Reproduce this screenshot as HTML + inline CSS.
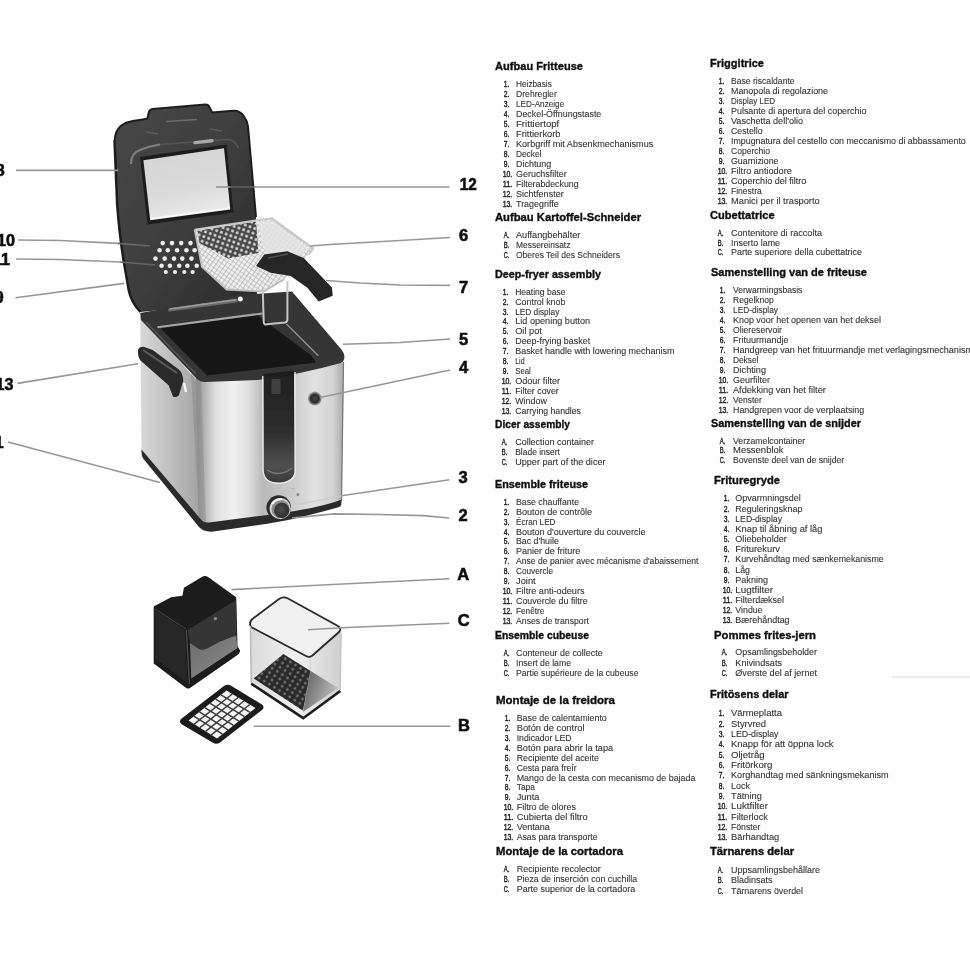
<!DOCTYPE html>
<html><head><meta charset="utf-8"><title>Fryer parts</title>
<style>
html,body{margin:0;padding:0;background:#fff;}
body{width:970px;height:970px;overflow:hidden;position:relative;font-family:"Liberation Sans",sans-serif;}
svg{position:absolute;left:0;top:0;}
.h{font-family:"Liberation Sans",sans-serif;font-weight:bold;font-size:11.5px;fill:#0c0c0c;stroke:#0c0c0c;stroke-width:0.35px;}
.i{font-family:"Liberation Sans",sans-serif;font-size:8.8px;fill:#333;stroke:#333;stroke-width:0.1px;}
.n{font-family:"Liberation Sans",sans-serif;font-size:8.8px;fill:#1e1e1e;stroke:#1e1e1e;stroke-width:0.4px;}
.lb{font-family:"Liberation Sans",sans-serif;font-weight:bold;font-size:16.5px;fill:#111;stroke:#111;stroke-width:0.6px;}
</style></head><body>

<svg width="970" height="970" viewBox="0 0 970 970">
<defs>
  <filter id="db" x="-5%" y="-5%" width="110%" height="110%"><feGaussianBlur stdDeviation="0.7"/></filter>
  <filter id="lbf" x="-20%" y="-20%" width="140%" height="140%"><feGaussianBlur stdDeviation="0.4"/></filter>
  <linearGradient id="gFront" x1="0" y1="0" x2="1" y2="0">
    <stop offset="0" stop-color="#8d8d8d"/>
    <stop offset="0.06" stop-color="#b5b5b5"/>
    <stop offset="0.14" stop-color="#e2e2e2"/>
    <stop offset="0.26" stop-color="#f1f1f1"/>
    <stop offset="0.36" stop-color="#dedede"/>
    <stop offset="0.45" stop-color="#b9b9b9"/>
    <stop offset="0.66" stop-color="#cdcdcd"/>
    <stop offset="0.8" stop-color="#e2e2e2"/>
    <stop offset="0.93" stop-color="#d2d2d2"/>
    <stop offset="1" stop-color="#a9a9a9"/>
  </linearGradient>
  <linearGradient id="gSide" x1="0" y1="0" x2="1" y2="0">
    <stop offset="0" stop-color="#d8d8d8"/>
    <stop offset="0.4" stop-color="#c4c4c4"/>
    <stop offset="1" stop-color="#a0a0a0"/>
  </linearGradient>
  <linearGradient id="gWin" x1="0" y1="0" x2="0.3" y2="1">
    <stop offset="0" stop-color="#d2d4d2"/>
    <stop offset="0.7" stop-color="#dbdcdb"/>
    <stop offset="1" stop-color="#e9e9e9"/>
  </linearGradient>
  <linearGradient id="gLid" x1="0" y1="0" x2="1" y2="1">
    <stop offset="0" stop-color="#474747"/>
    <stop offset="0.5" stop-color="#3e3e3e"/>
    <stop offset="1" stop-color="#2a2a2a"/>
  </linearGradient>
  <linearGradient id="gSlot" x1="0" y1="0" x2="0" y2="1">
    <stop offset="0" stop-color="#1e1e1e"/>
    <stop offset="0.55" stop-color="#2e2e2e"/>
    <stop offset="0.85" stop-color="#505050"/>
    <stop offset="1" stop-color="#3a3a3a"/>
  </linearGradient>
  <radialGradient id="gKnob" cx="0.5" cy="0.5" r="0.5">
    <stop offset="0" stop-color="#4d4d4d"/>
    <stop offset="0.55" stop-color="#2c2c2c"/>
    <stop offset="0.64" stop-color="#b9b9b9"/>
    <stop offset="0.8" stop-color="#7d7d7d"/>
    <stop offset="0.92" stop-color="#9a9a9a"/>
    <stop offset="1" stop-color="#4a4a4a"/>
  </radialGradient>
  <radialGradient id="gKnobFace" cx="0.45" cy="0.45" r="0.6"><stop offset="0" stop-color="#4e4e4e"/><stop offset="1" stop-color="#2a2a2a"/></radialGradient>
  <radialGradient id="gBtn" cx="0.5" cy="0.5" r="0.5">
    <stop offset="0" stop-color="#4a4a4a"/>
    <stop offset="0.6" stop-color="#2a2a2a"/>
    <stop offset="0.8" stop-color="#777"/>
    <stop offset="1" stop-color="#aaa"/>
  </radialGradient>
  <pattern id="mesh" width="5" height="5" patternUnits="userSpaceOnUse" patternTransform="rotate(20)">
    <rect width="5" height="5" fill="#4a4a4a"/>
    <circle cx="2.5" cy="2.5" r="1.5" fill="#d9d9d9"/>
  </pattern>
  <pattern id="mesh2" width="4" height="4" patternUnits="userSpaceOnUse" patternTransform="rotate(35)">
    <rect width="4" height="4" fill="#efefef"/>
    <path d="M0 0H4M0 0V4" stroke="#a9a9a9" stroke-width="1.2"/>
  </pattern>
  <pattern id="dots" width="6" height="5" patternUnits="userSpaceOnUse" patternTransform="rotate(32)">
    <rect width="6" height="5" fill="#2c2c2c"/>
    <circle cx="3" cy="2.5" r="1.3" fill="#7a7a7a"/>
  </pattern>
  <linearGradient id="gBoxFront" x1="0" y1="0" x2="1" y2="1">
    <stop offset="0" stop-color="#6a6a6a"/>
    <stop offset="1" stop-color="#8d8d8d"/>
  </linearGradient>
  <linearGradient id="gClear" x1="0" y1="0" x2="1" y2="0">
    <stop offset="0" stop-color="#dadada"/>
    <stop offset="0.5" stop-color="#f0f0f0"/>
    <stop offset="1" stop-color="#cfcfcf"/>
  </linearGradient>
  <linearGradient id="gClearFloor" x1="0" y1="0" x2="1" y2="0.4">
    <stop offset="0" stop-color="#5a5a5a"/>
    <stop offset="1" stop-color="#bdbdbd"/>
  </linearGradient>
</defs>

<path d="M892 677 H970" stroke="#ededed" stroke-width="2" fill="none"/>
<!-- ===== fryer ===== -->
<g filter="url(#db)">
  <!-- left side face -->
  <path d="M140.3 316 L141.5 451 L202.5 523 L197 381 Z" fill="url(#gSide)"/>
  <!-- front face -->
  <path d="M196 377 Q200 381.5 205 381.3 L258 379 Q300 374 343.8 362 L341.8 501 Q335 503.5 320 507 Q300 512 255 517.5 L209 524 Q199 520 198.5 510 Z" fill="url(#gFront)"/>
  <!-- corner shade -->
  <path d="M191 372 L201 381 L206 527 L199 520 Z" fill="#8a8a8a" opacity="0.5"/>
  <!-- base stripe -->
  <path d="M141.5 449.5 L201 519.5 Q204 523 209 522.5 L255 516.5 Q300 511 320 506 Q335 502.5 341.6 499.6 L341.3 504.5 Q341 506.8 338.5 507.3 Q320 512.5 299.5 517.5 Q280 522 255 525.5 L213.5 531.5 Q204 532.5 199 527 L143.5 459 Q141.5 456 141.5 452 Z" fill="#2b2b2b"/>
  <!-- body right thin dark edge -->
  <path d="M343.5 362 L341.5 500" stroke="#777" stroke-width="1.2" fill="none"/>

  <!-- LID -->
  <path d="M114.9 140 Q115 131 121 125.7 Q126 122 131.5 121.3 L147.3 118.7 L149 111.6 Q149.8 109.3 152.6 109 L205.2 104.6 Q208.5 104.5 209.5 107.3 L212.2 112.5 L233.2 110.8 Q240 110.5 243.7 116 Q247.5 121 248 126.5 L256 217 L257 300 L140.5 312 Q131 302 128.5 290 L124 264 Q119.5 238 117 205 L114.2 140 Z" fill="url(#gLid)"/>
  <!-- lid edge darker -->
  <path d="M114.9 140 Q115 131 121 125.7 Q126 122 131.5 121.3 L147.3 118.7 L149 111.6 Q149.8 109.3 152.6 109 L205.2 104.6 Q208.5 104.5 209.5 107.3 L212.2 112.5 L233.2 110.8 Q240 110.5 243.7 116 Q247.5 121 248 126.5 L256 217" fill="none" stroke="#1f1f1f" stroke-width="2"/>
  <path d="M114.5 140 L117.2 205 Q119.7 238 124.2 264 L128.7 290 Q131 302 140.5 312" fill="none" stroke="#1c1c1c" stroke-width="2.5"/>
  <!-- lid highlights -->
  <path d="M166 121.5 L197 119.5" stroke="#6a6a6a" stroke-width="1.6" fill="none"/>
  <path d="M146 132 L158 134" stroke="#5a5a5a" stroke-width="1.4" fill="none"/>
  <path d="M210 129 L222 131" stroke="#5a5a5a" stroke-width="1.4" fill="none"/>
  <path d="M131 164 Q131 153 140 150 Q150 146 160 144.5" stroke="#808080" stroke-width="2.2" fill="none"/>
  <path d="M160 144.5 L226 139.5 Q236 139.5 238 148" stroke="#555" stroke-width="1.6" fill="none"/>
  <path d="M195 142.6 L212 140.8" stroke="#a8a8a8" stroke-width="3.4" stroke-linecap="round" fill="none"/>
  <!-- window frame & glass -->
  <path d="M140 157 L226.5 144.5 L233.5 212.5 L147.5 224.5 Z" fill="#1d1d1d"/>
  <path d="M143.4 160.2 L224 148.2 L230.3 209.4 L150.2 220.2 Z" fill="url(#gWin)"/>
  <path d="M150.6 218.6 L230 208" stroke="#fafafa" stroke-width="1.6" fill="none"/>
  <!-- filter holes -->
  <g fill="#ececec">
    <circle cx="162.7" cy="243.1" r="2.3"/><circle cx="172.0" cy="243.1" r="2.3"/><circle cx="181.2" cy="243.1" r="2.3"/><circle cx="190.5" cy="243.1" r="2.3"/>
    <circle cx="159.6" cy="250.3" r="2.3"/><circle cx="167.8" cy="250.3" r="2.3"/><circle cx="177.1" cy="250.3" r="2.3"/><circle cx="186.4" cy="250.3" r="2.3"/><circle cx="194.6" cy="250.3" r="2.3"/>
    <circle cx="155.5" cy="258.6" r="2.3"/><circle cx="164.7" cy="258.6" r="2.3"/><circle cx="174.0" cy="258.6" r="2.3"/><circle cx="182.3" cy="258.6" r="2.3"/><circle cx="191.5" cy="258.6" r="2.3"/>
    <circle cx="161.6" cy="265.8" r="2.3"/><circle cx="169.9" cy="265.8" r="2.3"/><circle cx="179.2" cy="265.8" r="2.3"/><circle cx="187.4" cy="265.8" r="2.3"/><circle cx="196.7" cy="265.8" r="2.3"/>
    <circle cx="165.8" cy="272.0" r="2.1"/><circle cx="175.0" cy="272.0" r="2.1"/><circle cx="184.3" cy="272.0" r="2.1"/><circle cx="192.6" cy="272.0" r="2.1"/>
  </g>

  <!-- RIM of body -->
  <path d="M140.2 313 L240 295 L292 291.5 L341 349 Q345 354 344.3 358 Q343.5 362.3 340 363.3 Q300 374.5 258 380 L205 382 Q200 382 197 379 L141 320 Z" fill="#343434"/>
  <!-- pot interior -->
  <path d="M160.6 328.6 L257 315 L311.4 355.8 L316 362.5 L207.1 375.5 Z" fill="#171717"/>
  <!-- pot edge highlights -->
  <path d="M157.4 327.2 L262.6 313.4" stroke="#a5a5a5" stroke-width="2" fill="none"/>
  <path d="M286.5 324 L318.3 355.8" stroke="#8a8a8a" stroke-width="1.6" fill="none"/>
  <path d="M169.8 309.8 L236 300.6" stroke="#6a6a6a" stroke-width="3.6" stroke-linecap="round" fill="none"/>
  <path d="M170 309 L236 299.8" stroke="#9c9c9c" stroke-width="1.6" fill="none"/>
  <circle cx="240.3" cy="298.9" r="2.5" fill="#f4f4f4"/>
  <path d="M146 322 L196 374" stroke="#555" stroke-width="1.4" fill="none"/>

  <!-- left handle -->
  <path d="M138 350 Q139 346.5 143.6 346.7 L152.7 350 L178.8 369.4 Q183 373 183.3 380.7 L178.8 395.5 Q176 398 173 396.6 L168.6 385.3 L159.5 377.3 L140.2 360.3 Q137.5 356 138 350 Z" fill="#2a2a2a"/>
  <path d="M143 350 L177 373" stroke="#5c5c5c" stroke-width="2" fill="none"/>
  <path d="M184 383 L186 392" stroke="#f4f4f4" stroke-width="2.4" fill="none"/>

  <!-- window slot -->
  <path d="M263.5 374 L294 370.5 L294.6 470 Q294.6 481 280 482.5 Q264 483 263.6 470 Z" fill="url(#gSlot)"/>
  <path d="M262.8 376 L263 470 Q263.5 484 280 483.3 Q295.5 482 295.3 470 L295 372" fill="none" stroke="#e8e8e8" stroke-width="1.3"/>
  <rect x="271.5" y="379" width="9" height="15" fill="#3f3f3f"/>
  <path d="M267 470 Q279 478 292 468" stroke="#777" stroke-width="1.5" fill="none"/>

  <!-- button 4 -->
  <circle cx="314.8" cy="398.6" r="7" fill="url(#gBtn)"/>
  <!-- knob 2 -->
  <circle cx="278.7" cy="507.6" r="12.3" fill="#2a2a2a"/>
  <circle cx="280.2" cy="508.6" r="10.6" fill="#d9d9d9"/>
  <circle cx="280.6" cy="509" r="9.2" fill="#8a8a8a"/>
  <path d="M272.5 504 Q275 499.5 282 499" stroke="#f6f6f6" stroke-width="2" fill="none"/>
  <circle cx="281.7" cy="510.4" r="7.6" fill="url(#gKnobFace)"/>
  <!-- LED bits -->
  <rect x="296.7" y="493.4" width="2.4" height="2.4" fill="#7c7c7c"/>
  <path d="M290.6 488.6 H294.4" stroke="#b4b4b4" stroke-width="1" fill="none"/>

  <!-- BASKET -->
  <path d="M194.6 229.7 L255.5 220.5 L272 218.4 L313.2 248.3 L309 254.5 L284.3 279.2 L263.7 291.6 L226.6 289.5 L201.9 266.9 Z" fill="url(#mesh2)"/>
  <path d="M197.5 230.8 L256 221.5 L258.5 253 L228 258.5 L199.5 243 Z" fill="url(#mesh)"/>
  <path d="M258 222 L272 220 L309 249 L290 262 L266 257 Z" fill="#e3e3e3" opacity="0.85"/>
  <path d="M194.6 229.7 L255.5 220.5 L272 218.4 L313.2 248.3 L309 254.5" fill="none" stroke="#c9c9c9" stroke-width="2"/>
  <path d="M194.6 229.7 L201.9 266.9 L226.6 289.5 L263.7 291.6 L284.3 279.2" fill="none" stroke="#bdbdbd" stroke-width="1.8"/>
  <!-- wire hook -->
  <path d="M262.7 287.5 L263.7 322 Q264 325 267 324.3 L285 322.5 Q287.6 322 287.4 319 L287.4 281.3" fill="none" stroke="#c6c6c6" stroke-width="2"/>
  <!-- basket handle -->
  <path d="M256 266 L264.2 254.6 L287.3 251.3 L303.8 257.9 L331.9 287.6 L332.7 295.8 L318.7 301.6 L307.1 287.6 L290.6 276 L270.8 272.7 Z" fill="#262626"/>
  <path d="M268 258 L288 254" stroke="#4d4d4d" stroke-width="1.5" fill="none"/>

  <!-- ===== accessories ===== -->
  <!-- black container A -->
  <path d="M153.7 606.6 L171.1 597.2 L182.5 595.8 L183.9 587.8 L202.7 576.4 Q205.5 575.5 208 577 L236.2 597.2 L237.5 646 L240.2 650.8 L238.9 654 L190 688 Q187.9 689.4 185.5 687.5 L153.7 663.5 Z" fill="#1a1a1a"/>
  <!-- left face -->
  <path d="M155.5 611 L185.2 630 L187.5 683 L155.5 659 Z" fill="#272727"/>
  <!-- right face upper -->
  <path d="M187.5 630 L236 600 L236.8 636 L220.1 641.4 L208 648.1 Q202 651 198.6 648.8 L189.9 642 Z" fill="#343434"/>
  <!-- right face lower grey -->
  <path d="M189.9 642.8 L198.6 648.8 Q202 651 208 648.1 L220.1 641.4 L236.2 635.4 L237.5 648.1 L191.3 678.5 Z" fill="url(#gBoxFront)"/>
  <path d="M186.3 630 L189.5 684" stroke="#4a4a4a" stroke-width="1.3" fill="none"/>
  <path d="M155 609 L186 629" stroke="#3d3d3d" stroke-width="1.2" fill="none"/>
  <circle cx="215.4" cy="618.6" r="1.7" fill="#8d8d8d"/>
  <!-- clear container C -->
  <path d="M250 624 Q250 620.5 253 618.5 L279 599 Q283.4 596 288 598.5 L338 626 Q342 628.5 341.5 633 L340.3 691 L303.2 718.2 L251.2 683.6 Z" fill="url(#gClear)"/>
  <path d="M253.7 678.6 L283.4 654 L310.6 671 L303 710.8 Z" fill="url(#dots)"/>
  <path d="M310.6 671 L338 688 L303 712 Z" fill="url(#gClearFloor)"/>
  <path d="M251.2 683.6 L303.2 718.2 L340.3 691" fill="none" stroke="#1d1d1d" stroke-width="2.6"/>
  <path d="M250 624 Q250 620.5 253 618.5 L279 599 Q283.4 596 288 598.5 L338 626 Q342 628.5 339 632 L313 655 Q310 658 306 656 L252 627.5 Q250 626 250 624 Z" fill="#f1f1f1" stroke="#2a2a2a" stroke-width="1.8"/>
  <path d="M250.5 626 L251.2 683" stroke="#bdbdbd" stroke-width="1.6" fill="none"/>
  <path d="M341 633 L340.3 690" stroke="#c6c6c6" stroke-width="1.4" fill="none"/>
  <path d="M310 658 L310.6 671" stroke="#d5d5d5" stroke-width="1.2" fill="none"/>
  <!-- blade grid B -->
  <path d="M181 719 L224 686 Q227.7 683.5 231.5 686 L262 704.5 Q265 707 262 710 L220 742.5 Q216.6 745 212.5 742.5 L182 724.5 Q178.5 722 181 719 Z" fill="#1b1b1b"/>
  <path d="M188.5 720.5 L226.5 690.5 L255.5 708.0 L217.0 738.5 Z" fill="#f4f4f4"/>
  <g stroke="#3c3c3c" stroke-width="1.5" fill="none">
    <path d="M193.9 716.2 L222.5 734.1"/>
    <path d="M199.4 711.9 L228.0 729.8"/>
    <path d="M204.8 707.6 L233.5 725.4"/>
    <path d="M210.2 703.4 L239.0 721.1"/>
    <path d="M215.6 699.1 L244.5 716.7"/>
    <path d="M221.1 694.8 L250.0 712.4"/>
    <path d="M194.2 724.1 L232.3 694.0"/>
    <path d="M199.9 727.7 L238.1 697.5"/>
    <path d="M205.6 731.3 L243.9 701.0"/>
    <path d="M211.3 734.9 L249.7 704.5"/>
  </g>

</g>
<!-- ===== leader lines ===== -->
<g fill="none" stroke="#979797" stroke-width="1.6" filter="url(#lbf)">
  <path d="M16 170.4H118"/>
  <path d="M18 240 L60 240.5 L118 243.4"/><path d="M118 243.4 L150 246" stroke="#666"/>
  <path d="M16 259 L60 259.5 L120 262"/><path d="M120 262 L155 265" stroke="#666"/>
  <path d="M15.5 297.8 L124 283.4"/>
  <path d="M17.5 383.4 L138 363.8"/>
  <path d="M8 442 L160 482.5"/>
  <path d="M216 187 H230.5"/><path d="M230.5 187 H254.5" stroke="#5e5e5e"/><path d="M254.5 187 H449.5"/>
  <path d="M310 246 L330 244.5 L400 240.5 L450 237.5"/>
  <path d="M326 280.5 L360 283 L400 285 L450 285.4"/>
  <path d="M343 344.3 L400 342.5 L450 339"/>
  <path d="M320 397.5 L450 370"/>
  <path d="M300 504 L341.6 495.8" stroke="#c9c9c9" stroke-width="1.2"/><path d="M341.6 495.8 L449.3 479.7"/>
  <path d="M292 518 L334 513.9 L380 514.5 L423 515.6 L449.3 518"/>
  <path d="M231.4 589.6 L449.3 578.7"/>
  <path d="M308 629.7 L341.6 627.7 L449.3 623.3"/>
  <path d="M253.7 726.2 H450.5"/>
</g>

<!-- ===== callout labels ===== -->
<g class="lb" filter="url(#lbf)">
  <text x="-4.5" y="176.3">8</text>
  <text x="-3" y="246.3" textLength="18" lengthAdjust="spacingAndGlyphs">10</text>
  <text x="-7" y="264.5" textLength="17" lengthAdjust="spacingAndGlyphs">11</text>
  <text x="-5.5" y="302.5">9</text>
  <text x="-4.5" y="390.3" textLength="18" lengthAdjust="spacingAndGlyphs">13</text>
  <text x="-5.5" y="448">1</text>
  <text x="459.8" y="190.3" textLength="17" lengthAdjust="spacingAndGlyphs">12</text>
  <text x="459" y="241">6</text>
  <text x="459" y="292.6">7</text>
  <text x="459" y="345.3">5</text>
  <text x="459" y="372.5">4</text>
  <text x="458.6" y="483.2">3</text>
  <text x="458.6" y="521">2</text>
  <text x="457.2" y="580.4">A</text>
  <text x="457.8" y="626">C</text>
  <text x="458" y="730.8">B</text>
</g>

</svg>

<svg width="970" height="970" viewBox="0 0 970 970">
<defs><filter id="tb" x="-5%" y="-5%" width="110%" height="110%"><feGaussianBlur stdDeviation="0.5"/></filter></defs>
<g filter="url(#tb)">
<text class="h" x="495" y="69.9" textLength="88.0" lengthAdjust="spacingAndGlyphs">Aufbau Fritteuse</text>
<text class="n" x="503.8" y="86.7" textLength="5.6" lengthAdjust="spacingAndGlyphs">1.</text>
<text class="i" x="516.0" y="86.7" textLength="35.8" lengthAdjust="spacingAndGlyphs">Heizbasis</text>
<text class="n" x="503.8" y="96.7" textLength="5.6" lengthAdjust="spacingAndGlyphs">2.</text>
<text class="i" x="516.0" y="96.7" textLength="40.8" lengthAdjust="spacingAndGlyphs">Drehregler</text>
<text class="n" x="503.8" y="106.7" textLength="5.6" lengthAdjust="spacingAndGlyphs">3.</text>
<text class="i" x="516.0" y="106.7" textLength="48.2" lengthAdjust="spacingAndGlyphs">LED-Anzeige</text>
<text class="n" x="503.8" y="116.7" textLength="5.6" lengthAdjust="spacingAndGlyphs">4.</text>
<text class="i" x="516.0" y="116.7" textLength="85.3" lengthAdjust="spacingAndGlyphs">Deckel-Öffnungstaste</text>
<text class="n" x="503.8" y="126.7" textLength="5.6" lengthAdjust="spacingAndGlyphs">5.</text>
<text class="i" x="516.0" y="126.7" textLength="43.3" lengthAdjust="spacingAndGlyphs">Frittiertopf</text>
<text class="n" x="503.8" y="136.7" textLength="5.6" lengthAdjust="spacingAndGlyphs">6.</text>
<text class="i" x="516.0" y="136.7" textLength="44.5" lengthAdjust="spacingAndGlyphs">Frittierkorb</text>
<text class="n" x="503.8" y="146.8" textLength="5.6" lengthAdjust="spacingAndGlyphs">7.</text>
<text class="i" x="516.0" y="146.8" textLength="137.3" lengthAdjust="spacingAndGlyphs">Korbgriff mit Absenkmechanismus</text>
<text class="n" x="503.8" y="156.8" textLength="5.6" lengthAdjust="spacingAndGlyphs">8.</text>
<text class="i" x="516.0" y="156.8" textLength="25.4" lengthAdjust="spacingAndGlyphs">Deckel</text>
<text class="n" x="503.8" y="166.8" textLength="5.6" lengthAdjust="spacingAndGlyphs">9.</text>
<text class="i" x="516.0" y="166.8" textLength="35.3" lengthAdjust="spacingAndGlyphs">Dichtung</text>
<text class="n" x="502.7" y="176.8" textLength="9.6" lengthAdjust="spacingAndGlyphs">10.</text>
<text class="i" x="516.0" y="176.8" textLength="50.7" lengthAdjust="spacingAndGlyphs">Geruchsfilter</text>
<text class="n" x="502.7" y="186.8" textLength="9.6" lengthAdjust="spacingAndGlyphs">11.</text>
<text class="i" x="516.0" y="186.8" textLength="62.6" lengthAdjust="spacingAndGlyphs">Filterabdeckung</text>
<text class="n" x="502.7" y="196.8" textLength="9.6" lengthAdjust="spacingAndGlyphs">12.</text>
<text class="i" x="516.0" y="196.8" textLength="47.7" lengthAdjust="spacingAndGlyphs">Sichtfenster</text>
<text class="n" x="502.7" y="206.8" textLength="9.6" lengthAdjust="spacingAndGlyphs">13.</text>
<text class="i" x="516.0" y="206.8" textLength="42.8" lengthAdjust="spacingAndGlyphs">Tragegriffe</text>
<text class="h" x="495" y="220.9" textLength="146.0" lengthAdjust="spacingAndGlyphs">Aufbau Kartoffel-Schneider</text>
<text class="n" x="503.8" y="237.7" textLength="5.6" lengthAdjust="spacingAndGlyphs">A.</text>
<text class="i" x="516.0" y="237.7" textLength="64.3" lengthAdjust="spacingAndGlyphs">Auffangbehälter</text>
<text class="n" x="503.8" y="247.9" textLength="5.6" lengthAdjust="spacingAndGlyphs">B.</text>
<text class="i" x="516.0" y="247.9" textLength="54.4" lengthAdjust="spacingAndGlyphs">Messereinsatz</text>
<text class="n" x="503.8" y="258.0" textLength="5.6" lengthAdjust="spacingAndGlyphs">C.</text>
<text class="i" x="516.0" y="258.0" textLength="103.9" lengthAdjust="spacingAndGlyphs">Oberes Teil des Schneiders</text>
<text class="h" x="495" y="277.5" textLength="106.0" lengthAdjust="spacingAndGlyphs">Deep-fryer assembly</text>
<text class="n" x="502.8" y="294.7" textLength="5.6" lengthAdjust="spacingAndGlyphs">1.</text>
<text class="i" x="515.2" y="294.7" textLength="50.2" lengthAdjust="spacingAndGlyphs">Heating base</text>
<text class="n" x="502.8" y="304.6" textLength="5.6" lengthAdjust="spacingAndGlyphs">2.</text>
<text class="i" x="515.2" y="304.6" textLength="50.2" lengthAdjust="spacingAndGlyphs">Control knob</text>
<text class="n" x="502.8" y="314.5" textLength="5.6" lengthAdjust="spacingAndGlyphs">3.</text>
<text class="i" x="515.2" y="314.5" textLength="44.1" lengthAdjust="spacingAndGlyphs">LED display</text>
<text class="n" x="502.8" y="324.4" textLength="5.6" lengthAdjust="spacingAndGlyphs">4.</text>
<text class="i" x="515.2" y="324.4" textLength="75.0" lengthAdjust="spacingAndGlyphs">Lid opening button</text>
<text class="n" x="502.8" y="334.3" textLength="5.6" lengthAdjust="spacingAndGlyphs">5.</text>
<text class="i" x="515.2" y="334.3" textLength="26.7" lengthAdjust="spacingAndGlyphs">Oil pot</text>
<text class="n" x="502.8" y="344.2" textLength="5.6" lengthAdjust="spacingAndGlyphs">6.</text>
<text class="i" x="515.2" y="344.2" textLength="75.0" lengthAdjust="spacingAndGlyphs">Deep-frying basket</text>
<text class="n" x="502.8" y="354.1" textLength="5.6" lengthAdjust="spacingAndGlyphs">7.</text>
<text class="i" x="515.2" y="354.1" textLength="159.2" lengthAdjust="spacingAndGlyphs">Basket handle with lowering mechanism</text>
<text class="n" x="502.8" y="364.0" textLength="5.6" lengthAdjust="spacingAndGlyphs">8.</text>
<text class="i" x="515.2" y="364.0" textLength="9.4" lengthAdjust="spacingAndGlyphs">Lid</text>
<text class="n" x="502.8" y="373.9" textLength="5.6" lengthAdjust="spacingAndGlyphs">9.</text>
<text class="i" x="515.2" y="373.9" textLength="15.6" lengthAdjust="spacingAndGlyphs">Seal</text>
<text class="n" x="501.7" y="383.8" textLength="9.6" lengthAdjust="spacingAndGlyphs">10.</text>
<text class="i" x="515.2" y="383.8" textLength="44.8" lengthAdjust="spacingAndGlyphs">Odour filter</text>
<text class="n" x="501.7" y="393.7" textLength="9.6" lengthAdjust="spacingAndGlyphs">11.</text>
<text class="i" x="515.2" y="393.7" textLength="43.6" lengthAdjust="spacingAndGlyphs">Filter cover</text>
<text class="n" x="501.7" y="403.6" textLength="9.6" lengthAdjust="spacingAndGlyphs">12.</text>
<text class="i" x="515.2" y="403.6" textLength="31.7" lengthAdjust="spacingAndGlyphs">Window</text>
<text class="n" x="501.7" y="413.5" textLength="9.6" lengthAdjust="spacingAndGlyphs">13.</text>
<text class="i" x="515.2" y="413.5" textLength="65.8" lengthAdjust="spacingAndGlyphs">Carrying handles</text>
<text class="h" x="495" y="427.9" textLength="75.0" lengthAdjust="spacingAndGlyphs">Dicer assembly</text>
<text class="n" x="501.8" y="445.3" textLength="5.6" lengthAdjust="spacingAndGlyphs">A.</text>
<text class="i" x="515.2" y="445.3" textLength="78.7" lengthAdjust="spacingAndGlyphs">Collection container</text>
<text class="n" x="501.8" y="455.3" textLength="5.6" lengthAdjust="spacingAndGlyphs">B.</text>
<text class="i" x="515.2" y="455.3" textLength="44.8" lengthAdjust="spacingAndGlyphs">Blade insert</text>
<text class="n" x="501.8" y="465.3" textLength="5.6" lengthAdjust="spacingAndGlyphs">C.</text>
<text class="i" x="515.2" y="465.3" textLength="90.3" lengthAdjust="spacingAndGlyphs">Upper part of the dicer</text>
<text class="h" x="495" y="488.3" textLength="93.0" lengthAdjust="spacingAndGlyphs">Ensemble friteuse</text>
<text class="n" x="503.8" y="504.7" textLength="5.6" lengthAdjust="spacingAndGlyphs">1.</text>
<text class="i" x="516.0" y="504.7" textLength="63.0" lengthAdjust="spacingAndGlyphs">Base chauffante</text>
<text class="n" x="503.8" y="514.6" textLength="5.6" lengthAdjust="spacingAndGlyphs">2.</text>
<text class="i" x="516.0" y="514.6" textLength="76.0" lengthAdjust="spacingAndGlyphs">Bouton de contrôle</text>
<text class="n" x="503.8" y="524.5" textLength="5.6" lengthAdjust="spacingAndGlyphs">3.</text>
<text class="i" x="516.0" y="524.5" textLength="39.5" lengthAdjust="spacingAndGlyphs">Écran LED</text>
<text class="n" x="503.8" y="534.5" textLength="5.6" lengthAdjust="spacingAndGlyphs">4.</text>
<text class="i" x="516.0" y="534.5" textLength="129.4" lengthAdjust="spacingAndGlyphs">Bouton d'ouverture du couvercle</text>
<text class="n" x="503.8" y="544.4" textLength="5.6" lengthAdjust="spacingAndGlyphs">5.</text>
<text class="i" x="516.0" y="544.4" textLength="42.8" lengthAdjust="spacingAndGlyphs">Bac d'huile</text>
<text class="n" x="503.8" y="554.3" textLength="5.6" lengthAdjust="spacingAndGlyphs">6.</text>
<text class="i" x="516.0" y="554.3" textLength="64.3" lengthAdjust="spacingAndGlyphs">Panier de friture</text>
<text class="n" x="503.8" y="564.2" textLength="5.6" lengthAdjust="spacingAndGlyphs">7.</text>
<text class="i" x="516.0" y="564.2" textLength="182.4" lengthAdjust="spacingAndGlyphs">Anse de panier avec mécanisme d'abaissement</text>
<text class="n" x="503.8" y="574.2" textLength="5.6" lengthAdjust="spacingAndGlyphs">8.</text>
<text class="i" x="516.0" y="574.2" textLength="37.0" lengthAdjust="spacingAndGlyphs">Couvercle</text>
<text class="n" x="503.8" y="584.1" textLength="5.6" lengthAdjust="spacingAndGlyphs">9.</text>
<text class="i" x="516.0" y="584.1" textLength="19.7" lengthAdjust="spacingAndGlyphs">Joint</text>
<text class="n" x="502.7" y="594.0" textLength="9.6" lengthAdjust="spacingAndGlyphs">10.</text>
<text class="i" x="516.0" y="594.0" textLength="68.5" lengthAdjust="spacingAndGlyphs">Filtre anti-odeurs</text>
<text class="n" x="502.7" y="603.9" textLength="9.6" lengthAdjust="spacingAndGlyphs">11.</text>
<text class="i" x="516.0" y="603.9" textLength="71.7" lengthAdjust="spacingAndGlyphs">Couvercle du filtre</text>
<text class="n" x="502.7" y="613.9" textLength="9.6" lengthAdjust="spacingAndGlyphs">12.</text>
<text class="i" x="516.0" y="613.9" textLength="28.4" lengthAdjust="spacingAndGlyphs">Fenêtre</text>
<text class="n" x="502.7" y="623.8" textLength="9.6" lengthAdjust="spacingAndGlyphs">13.</text>
<text class="i" x="516.0" y="623.8" textLength="73.0" lengthAdjust="spacingAndGlyphs">Anses de transport</text>
<text class="h" x="495" y="638.5" textLength="94.0" lengthAdjust="spacingAndGlyphs">Ensemble cubeuse</text>
<text class="n" x="503.8" y="656.0" textLength="5.6" lengthAdjust="spacingAndGlyphs">A.</text>
<text class="i" x="516.0" y="656.0" textLength="86.6" lengthAdjust="spacingAndGlyphs">Conteneur de collecte</text>
<text class="n" x="503.8" y="666.1" textLength="5.6" lengthAdjust="spacingAndGlyphs">B.</text>
<text class="i" x="516.0" y="666.1" textLength="55.0" lengthAdjust="spacingAndGlyphs">Insert de lame</text>
<text class="n" x="503.8" y="676.3" textLength="5.6" lengthAdjust="spacingAndGlyphs">C.</text>
<text class="i" x="516.0" y="676.3" textLength="122.5" lengthAdjust="spacingAndGlyphs">Partie supérieure de la cubeuse</text>
<text class="h" x="496" y="703.9" textLength="119.0" lengthAdjust="spacingAndGlyphs">Montaje de la freidora</text>
<text class="n" x="504.8" y="720.9" textLength="5.6" lengthAdjust="spacingAndGlyphs">1.</text>
<text class="i" x="516.7" y="720.9" textLength="90.1" lengthAdjust="spacingAndGlyphs">Base de calentamiento</text>
<text class="n" x="504.8" y="730.8" textLength="5.6" lengthAdjust="spacingAndGlyphs">2.</text>
<text class="i" x="516.7" y="730.8" textLength="67.8" lengthAdjust="spacingAndGlyphs">Botón de control</text>
<text class="n" x="504.8" y="740.8" textLength="5.6" lengthAdjust="spacingAndGlyphs">3.</text>
<text class="i" x="516.7" y="740.8" textLength="54.9" lengthAdjust="spacingAndGlyphs">Indicador LED</text>
<text class="n" x="504.8" y="750.7" textLength="5.6" lengthAdjust="spacingAndGlyphs">4.</text>
<text class="i" x="516.7" y="750.7" textLength="96.5" lengthAdjust="spacingAndGlyphs">Botón para abrir la tapa</text>
<text class="n" x="504.8" y="760.6" textLength="5.6" lengthAdjust="spacingAndGlyphs">5.</text>
<text class="i" x="516.7" y="760.6" textLength="82.2" lengthAdjust="spacingAndGlyphs">Recipiente del aceite</text>
<text class="n" x="504.8" y="770.5" textLength="5.6" lengthAdjust="spacingAndGlyphs">6.</text>
<text class="i" x="516.7" y="770.5" textLength="59.9" lengthAdjust="spacingAndGlyphs">Cesta para freír</text>
<text class="n" x="504.8" y="780.5" textLength="5.6" lengthAdjust="spacingAndGlyphs">7.</text>
<text class="i" x="516.7" y="780.5" textLength="178.7" lengthAdjust="spacingAndGlyphs">Mango de la cesta con mecanismo de bajada</text>
<text class="n" x="504.8" y="790.4" textLength="5.6" lengthAdjust="spacingAndGlyphs">8.</text>
<text class="i" x="516.7" y="790.4" textLength="18.3" lengthAdjust="spacingAndGlyphs">Tapa</text>
<text class="n" x="504.8" y="800.3" textLength="5.6" lengthAdjust="spacingAndGlyphs">9.</text>
<text class="i" x="516.7" y="800.3" textLength="22.8" lengthAdjust="spacingAndGlyphs">Junta</text>
<text class="n" x="503.7" y="810.2" textLength="9.6" lengthAdjust="spacingAndGlyphs">10.</text>
<text class="i" x="516.7" y="810.2" textLength="59.3" lengthAdjust="spacingAndGlyphs">Filtro de olores</text>
<text class="n" x="503.7" y="820.1" textLength="9.6" lengthAdjust="spacingAndGlyphs">11.</text>
<text class="i" x="516.7" y="820.1" textLength="71.0" lengthAdjust="spacingAndGlyphs">Cubierta del filtro</text>
<text class="n" x="503.7" y="830.1" textLength="9.6" lengthAdjust="spacingAndGlyphs">12.</text>
<text class="i" x="516.7" y="830.1" textLength="33.2" lengthAdjust="spacingAndGlyphs">Ventana</text>
<text class="n" x="503.7" y="840.0" textLength="9.6" lengthAdjust="spacingAndGlyphs">13.</text>
<text class="i" x="516.7" y="840.0" textLength="80.9" lengthAdjust="spacingAndGlyphs">Asas para transporte</text>
<text class="h" x="496" y="854.7" textLength="127.0" lengthAdjust="spacingAndGlyphs">Montaje de la cortadora</text>
<text class="n" x="503.8" y="871.9" textLength="5.6" lengthAdjust="spacingAndGlyphs">A.</text>
<text class="i" x="516.7" y="871.9" textLength="84.1" lengthAdjust="spacingAndGlyphs">Recipiente recolector</text>
<text class="n" x="503.8" y="882.0" textLength="5.6" lengthAdjust="spacingAndGlyphs">B.</text>
<text class="i" x="516.7" y="882.0" textLength="120.5" lengthAdjust="spacingAndGlyphs">Pieza de inserción con cuchilla</text>
<text class="n" x="503.8" y="892.0" textLength="5.6" lengthAdjust="spacingAndGlyphs">C.</text>
<text class="i" x="516.7" y="892.0" textLength="118.5" lengthAdjust="spacingAndGlyphs">Parte superior de la cortadora</text>
<text class="h" x="710" y="66.9" textLength="54.0" lengthAdjust="spacingAndGlyphs">Friggitrice</text>
<text class="n" x="718.8" y="83.9" textLength="5.6" lengthAdjust="spacingAndGlyphs">1.</text>
<text class="i" x="731.0" y="83.9" textLength="63.6" lengthAdjust="spacingAndGlyphs">Base riscaldante</text>
<text class="n" x="718.8" y="93.9" textLength="5.6" lengthAdjust="spacingAndGlyphs">2.</text>
<text class="i" x="731.0" y="93.9" textLength="97.0" lengthAdjust="spacingAndGlyphs">Manopola di regolazione</text>
<text class="n" x="718.8" y="104.0" textLength="5.6" lengthAdjust="spacingAndGlyphs">3.</text>
<text class="i" x="731.0" y="104.0" textLength="44.0" lengthAdjust="spacingAndGlyphs">Display LED</text>
<text class="n" x="718.8" y="114.0" textLength="5.6" lengthAdjust="spacingAndGlyphs">4.</text>
<text class="i" x="731.0" y="114.0" textLength="135.4" lengthAdjust="spacingAndGlyphs">Pulsante di apertura del coperchio</text>
<text class="n" x="718.8" y="124.1" textLength="5.6" lengthAdjust="spacingAndGlyphs">5.</text>
<text class="i" x="731.0" y="124.1" textLength="72.0" lengthAdjust="spacingAndGlyphs">Vaschetta dell'olio</text>
<text class="n" x="718.8" y="134.1" textLength="5.6" lengthAdjust="spacingAndGlyphs">6.</text>
<text class="i" x="731.0" y="134.1" textLength="31.6" lengthAdjust="spacingAndGlyphs">Cestello</text>
<text class="n" x="718.8" y="144.2" textLength="5.6" lengthAdjust="spacingAndGlyphs">7.</text>
<text class="i" x="731.0" y="144.2" textLength="234.8" lengthAdjust="spacingAndGlyphs">Impugnatura del cestello con meccanismo di abbassamento</text>
<text class="n" x="718.8" y="154.2" textLength="5.6" lengthAdjust="spacingAndGlyphs">8.</text>
<text class="i" x="731.0" y="154.2" textLength="39.0" lengthAdjust="spacingAndGlyphs">Coperchio</text>
<text class="n" x="718.8" y="164.2" textLength="5.6" lengthAdjust="spacingAndGlyphs">9.</text>
<text class="i" x="731.0" y="164.2" textLength="47.5" lengthAdjust="spacingAndGlyphs">Guarnizione</text>
<text class="n" x="717.7" y="174.3" textLength="9.6" lengthAdjust="spacingAndGlyphs">10.</text>
<text class="i" x="731.0" y="174.3" textLength="60.8" lengthAdjust="spacingAndGlyphs">Filtro antiodore</text>
<text class="n" x="717.7" y="184.3" textLength="9.6" lengthAdjust="spacingAndGlyphs">11.</text>
<text class="i" x="731.0" y="184.3" textLength="75.3" lengthAdjust="spacingAndGlyphs">Coperchio del filtro</text>
<text class="n" x="717.7" y="194.4" textLength="9.6" lengthAdjust="spacingAndGlyphs">12.</text>
<text class="i" x="731.0" y="194.4" textLength="30.8" lengthAdjust="spacingAndGlyphs">Finestra</text>
<text class="n" x="717.7" y="204.4" textLength="9.6" lengthAdjust="spacingAndGlyphs">13.</text>
<text class="i" x="731.0" y="204.4" textLength="88.7" lengthAdjust="spacingAndGlyphs">Manici per il trasporto</text>
<text class="h" x="710" y="218.9" textLength="64.6" lengthAdjust="spacingAndGlyphs">Cubettatrice</text>
<text class="n" x="717.8" y="236.2" textLength="5.6" lengthAdjust="spacingAndGlyphs">A.</text>
<text class="i" x="731.0" y="236.2" textLength="91.0" lengthAdjust="spacingAndGlyphs">Contenitore di raccolta</text>
<text class="n" x="717.8" y="245.7" textLength="5.6" lengthAdjust="spacingAndGlyphs">B.</text>
<text class="i" x="731.0" y="245.7" textLength="49.0" lengthAdjust="spacingAndGlyphs">Inserto lame</text>
<text class="n" x="717.8" y="255.1" textLength="5.6" lengthAdjust="spacingAndGlyphs">C.</text>
<text class="i" x="731.0" y="255.1" textLength="131.0" lengthAdjust="spacingAndGlyphs">Parte superiore della cubettatrice</text>
<text class="h" x="711" y="275.9" textLength="156.0" lengthAdjust="spacingAndGlyphs">Samenstelling van de friteuse</text>
<text class="n" x="719.8" y="292.5" textLength="5.6" lengthAdjust="spacingAndGlyphs">1.</text>
<text class="i" x="733.0" y="292.5" textLength="69.4" lengthAdjust="spacingAndGlyphs">Verwarmingsbasis</text>
<text class="n" x="719.8" y="302.5" textLength="5.6" lengthAdjust="spacingAndGlyphs">2.</text>
<text class="i" x="733.0" y="302.5" textLength="40.8" lengthAdjust="spacingAndGlyphs">Regelknop</text>
<text class="n" x="719.8" y="312.6" textLength="5.6" lengthAdjust="spacingAndGlyphs">3.</text>
<text class="i" x="733.0" y="312.6" textLength="45.0" lengthAdjust="spacingAndGlyphs">LED-display</text>
<text class="n" x="719.8" y="322.6" textLength="5.6" lengthAdjust="spacingAndGlyphs">4.</text>
<text class="i" x="733.0" y="322.6" textLength="148.0" lengthAdjust="spacingAndGlyphs">Knop voor het openen van het deksel</text>
<text class="n" x="719.8" y="332.6" textLength="5.6" lengthAdjust="spacingAndGlyphs">5.</text>
<text class="i" x="733.0" y="332.6" textLength="49.0" lengthAdjust="spacingAndGlyphs">Oliereservoir</text>
<text class="n" x="719.8" y="342.6" textLength="5.6" lengthAdjust="spacingAndGlyphs">6.</text>
<text class="i" x="733.0" y="342.6" textLength="55.5" lengthAdjust="spacingAndGlyphs">Frituurmandje</text>
<text class="n" x="719.8" y="352.7" textLength="5.6" lengthAdjust="spacingAndGlyphs">7.</text>
<text class="i" x="733.0" y="352.7" textLength="245.0" lengthAdjust="spacingAndGlyphs">Handgreep van het frituurmandje met verlagingsmechanisme</text>
<text class="n" x="719.8" y="362.7" textLength="5.6" lengthAdjust="spacingAndGlyphs">8.</text>
<text class="i" x="733.0" y="362.7" textLength="25.4" lengthAdjust="spacingAndGlyphs">Deksel</text>
<text class="n" x="719.8" y="372.7" textLength="5.6" lengthAdjust="spacingAndGlyphs">9.</text>
<text class="i" x="733.0" y="372.7" textLength="33.0" lengthAdjust="spacingAndGlyphs">Dichting</text>
<text class="n" x="718.7" y="382.7" textLength="9.6" lengthAdjust="spacingAndGlyphs">10.</text>
<text class="i" x="733.0" y="382.7" textLength="37.0" lengthAdjust="spacingAndGlyphs">Geurfilter</text>
<text class="n" x="718.7" y="392.8" textLength="9.6" lengthAdjust="spacingAndGlyphs">11.</text>
<text class="i" x="733.0" y="392.8" textLength="92.8" lengthAdjust="spacingAndGlyphs">Afdekking van het filter</text>
<text class="n" x="718.7" y="402.8" textLength="9.6" lengthAdjust="spacingAndGlyphs">12.</text>
<text class="i" x="733.0" y="402.8" textLength="28.8" lengthAdjust="spacingAndGlyphs">Venster</text>
<text class="n" x="718.7" y="412.8" textLength="9.6" lengthAdjust="spacingAndGlyphs">13.</text>
<text class="i" x="733.0" y="412.8" textLength="131.2" lengthAdjust="spacingAndGlyphs">Handgrepen voor de verplaatsing</text>
<text class="h" x="711" y="426.7" textLength="150.0" lengthAdjust="spacingAndGlyphs">Samenstelling van de snijder</text>
<text class="n" x="719.8" y="443.7" textLength="5.6" lengthAdjust="spacingAndGlyphs">A.</text>
<text class="i" x="733.0" y="443.7" textLength="72.2" lengthAdjust="spacingAndGlyphs">Verzamelcontainer</text>
<text class="n" x="719.8" y="453.4" textLength="5.6" lengthAdjust="spacingAndGlyphs">B.</text>
<text class="i" x="733.0" y="453.4" textLength="50.5" lengthAdjust="spacingAndGlyphs">Messenblok</text>
<text class="n" x="719.8" y="463.1" textLength="5.6" lengthAdjust="spacingAndGlyphs">C.</text>
<text class="i" x="733.0" y="463.1" textLength="111.2" lengthAdjust="spacingAndGlyphs">Bovenste deel van de snijder</text>
<text class="h" x="714" y="484.1" textLength="66.0" lengthAdjust="spacingAndGlyphs">Frituregryde</text>
<text class="n" x="723.8" y="501.3" textLength="5.6" lengthAdjust="spacingAndGlyphs">1.</text>
<text class="i" x="735.3" y="501.3" textLength="65.5" lengthAdjust="spacingAndGlyphs">Opvarmningsdel</text>
<text class="n" x="723.8" y="511.5" textLength="5.6" lengthAdjust="spacingAndGlyphs">2.</text>
<text class="i" x="735.3" y="511.5" textLength="67.1" lengthAdjust="spacingAndGlyphs">Reguleringsknap</text>
<text class="n" x="723.8" y="521.6" textLength="5.6" lengthAdjust="spacingAndGlyphs">3.</text>
<text class="i" x="735.3" y="521.6" textLength="46.7" lengthAdjust="spacingAndGlyphs">LED-display</text>
<text class="n" x="723.8" y="531.8" textLength="5.6" lengthAdjust="spacingAndGlyphs">4.</text>
<text class="i" x="735.3" y="531.8" textLength="87.2" lengthAdjust="spacingAndGlyphs">Knap til åbning af låg</text>
<text class="n" x="723.8" y="542.0" textLength="5.6" lengthAdjust="spacingAndGlyphs">5.</text>
<text class="i" x="735.3" y="542.0" textLength="51.5" lengthAdjust="spacingAndGlyphs">Oliebeholder</text>
<text class="n" x="723.8" y="552.1" textLength="5.6" lengthAdjust="spacingAndGlyphs">6.</text>
<text class="i" x="735.3" y="552.1" textLength="44.7" lengthAdjust="spacingAndGlyphs">Friturekurv</text>
<text class="n" x="723.8" y="562.3" textLength="5.6" lengthAdjust="spacingAndGlyphs">7.</text>
<text class="i" x="735.3" y="562.3" textLength="148.4" lengthAdjust="spacingAndGlyphs">Kurvehåndtag med sænkemekanisme</text>
<text class="n" x="723.8" y="572.5" textLength="5.6" lengthAdjust="spacingAndGlyphs">8.</text>
<text class="i" x="735.3" y="572.5" textLength="14.7" lengthAdjust="spacingAndGlyphs">Låg</text>
<text class="n" x="723.8" y="582.6" textLength="5.6" lengthAdjust="spacingAndGlyphs">9.</text>
<text class="i" x="735.3" y="582.6" textLength="32.7" lengthAdjust="spacingAndGlyphs">Pakning</text>
<text class="n" x="722.7" y="592.8" textLength="9.6" lengthAdjust="spacingAndGlyphs">10.</text>
<text class="i" x="735.3" y="592.8" textLength="37.7" lengthAdjust="spacingAndGlyphs">Lugtfilter</text>
<text class="n" x="722.7" y="603.0" textLength="9.6" lengthAdjust="spacingAndGlyphs">11.</text>
<text class="i" x="735.3" y="603.0" textLength="48.7" lengthAdjust="spacingAndGlyphs">Filterdæksel</text>
<text class="n" x="722.7" y="613.1" textLength="9.6" lengthAdjust="spacingAndGlyphs">12.</text>
<text class="i" x="735.3" y="613.1" textLength="27.3" lengthAdjust="spacingAndGlyphs">Vindue</text>
<text class="n" x="722.7" y="623.3" textLength="9.6" lengthAdjust="spacingAndGlyphs">13.</text>
<text class="i" x="735.3" y="623.3" textLength="54.3" lengthAdjust="spacingAndGlyphs">Bærehåndtag</text>
<text class="h" x="714" y="638.7" textLength="102.0" lengthAdjust="spacingAndGlyphs">Pommes frites-jern</text>
<text class="n" x="721.8" y="655.3" textLength="5.6" lengthAdjust="spacingAndGlyphs">A.</text>
<text class="i" x="735.3" y="655.3" textLength="81.7" lengthAdjust="spacingAndGlyphs">Opsamlingsbeholder</text>
<text class="n" x="721.8" y="665.8" textLength="5.6" lengthAdjust="spacingAndGlyphs">B.</text>
<text class="i" x="735.3" y="665.8" textLength="46.7" lengthAdjust="spacingAndGlyphs">Knivindsats</text>
<text class="n" x="721.8" y="676.3" textLength="5.6" lengthAdjust="spacingAndGlyphs">C.</text>
<text class="i" x="735.3" y="676.3" textLength="81.7" lengthAdjust="spacingAndGlyphs">Øverste del af jernet</text>
<text class="h" x="710" y="698.3" textLength="78.5" lengthAdjust="spacingAndGlyphs">Fritösens delar</text>
<text class="n" x="718.8" y="716.4" textLength="5.6" lengthAdjust="spacingAndGlyphs">1.</text>
<text class="i" x="731.0" y="716.4" textLength="51.0" lengthAdjust="spacingAndGlyphs">Värmeplatta</text>
<text class="n" x="718.8" y="726.7" textLength="5.6" lengthAdjust="spacingAndGlyphs">2.</text>
<text class="i" x="731.0" y="726.7" textLength="35.0" lengthAdjust="spacingAndGlyphs">Styrvred</text>
<text class="n" x="718.8" y="737.0" textLength="5.6" lengthAdjust="spacingAndGlyphs">3.</text>
<text class="i" x="731.0" y="737.0" textLength="47.5" lengthAdjust="spacingAndGlyphs">LED-display</text>
<text class="n" x="718.8" y="747.4" textLength="5.6" lengthAdjust="spacingAndGlyphs">4.</text>
<text class="i" x="731.0" y="747.4" textLength="102.6" lengthAdjust="spacingAndGlyphs">Knapp för att öppna lock</text>
<text class="n" x="718.8" y="757.7" textLength="5.6" lengthAdjust="spacingAndGlyphs">5.</text>
<text class="i" x="731.0" y="757.7" textLength="33.6" lengthAdjust="spacingAndGlyphs">Oljetråg</text>
<text class="n" x="718.8" y="768.0" textLength="5.6" lengthAdjust="spacingAndGlyphs">6.</text>
<text class="i" x="731.0" y="768.0" textLength="41.4" lengthAdjust="spacingAndGlyphs">Fritörkorg</text>
<text class="n" x="718.8" y="778.3" textLength="5.6" lengthAdjust="spacingAndGlyphs">7.</text>
<text class="i" x="731.0" y="778.3" textLength="157.7" lengthAdjust="spacingAndGlyphs">Korghandtag med sänkningsmekanism</text>
<text class="n" x="718.8" y="788.7" textLength="5.6" lengthAdjust="spacingAndGlyphs">8.</text>
<text class="i" x="731.0" y="788.7" textLength="19.0" lengthAdjust="spacingAndGlyphs">Lock</text>
<text class="n" x="718.8" y="799.0" textLength="5.6" lengthAdjust="spacingAndGlyphs">9.</text>
<text class="i" x="731.0" y="799.0" textLength="30.8" lengthAdjust="spacingAndGlyphs">Tätning</text>
<text class="n" x="717.7" y="809.3" textLength="9.6" lengthAdjust="spacingAndGlyphs">10.</text>
<text class="i" x="731.0" y="809.3" textLength="37.0" lengthAdjust="spacingAndGlyphs">Luktfilter</text>
<text class="n" x="717.7" y="819.6" textLength="9.6" lengthAdjust="spacingAndGlyphs">11.</text>
<text class="i" x="731.0" y="819.6" textLength="37.0" lengthAdjust="spacingAndGlyphs">Filterlock</text>
<text class="n" x="717.7" y="830.0" textLength="9.6" lengthAdjust="spacingAndGlyphs">12.</text>
<text class="i" x="731.0" y="830.0" textLength="29.4" lengthAdjust="spacingAndGlyphs">Fönster</text>
<text class="n" x="717.7" y="840.3" textLength="9.6" lengthAdjust="spacingAndGlyphs">13.</text>
<text class="i" x="731.0" y="840.3" textLength="48.3" lengthAdjust="spacingAndGlyphs">Bärhandtag</text>
<text class="h" x="710" y="855.4" textLength="84.0" lengthAdjust="spacingAndGlyphs">Tärnarens delar</text>
<text class="n" x="717.8" y="872.9" textLength="5.6" lengthAdjust="spacingAndGlyphs">A.</text>
<text class="i" x="731.0" y="872.9" textLength="89.0" lengthAdjust="spacingAndGlyphs">Uppsamlingsbehållare</text>
<text class="n" x="717.8" y="883.3" textLength="5.6" lengthAdjust="spacingAndGlyphs">B.</text>
<text class="i" x="731.0" y="883.3" textLength="41.4" lengthAdjust="spacingAndGlyphs">Bladinsats</text>
<text class="n" x="717.8" y="893.7" textLength="5.6" lengthAdjust="spacingAndGlyphs">C.</text>
<text class="i" x="731.0" y="893.7" textLength="72.0" lengthAdjust="spacingAndGlyphs">Tärnarens överdel</text>
</g></svg>
</body></html>
